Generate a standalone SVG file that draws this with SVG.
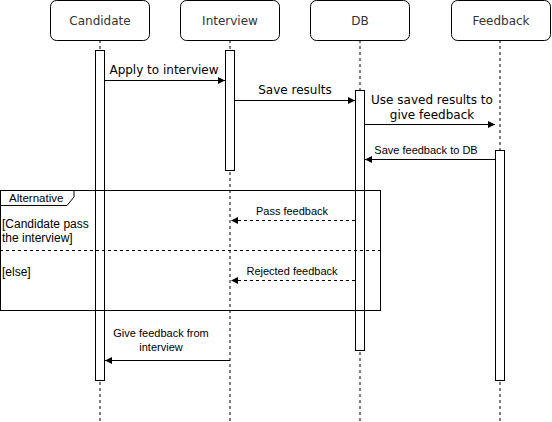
<svg xmlns="http://www.w3.org/2000/svg" width="552" height="422" viewBox="0 0 552 422">
<style>
.hdr{fill:#fff;stroke:#000;stroke-width:1}
.ht{font-family:"DejaVu Sans",sans-serif;font-size:12px;fill:#333;text-anchor:middle}
.life{stroke:#000;stroke-width:1;stroke-dasharray:3,3;fill:none}
.act{fill:#fff;stroke:#000;stroke-width:1}
.msg{stroke:#000;stroke-width:1;fill:none}
.ret{stroke:#000;stroke-width:1;fill:none;stroke-dasharray:3,3}
.mt{font-family:"DejaVu Sans",sans-serif;font-size:12px;fill:#000;text-anchor:middle}
.st{font-family:"Liberation Sans",Arial,sans-serif;font-size:11px;fill:#000;text-anchor:middle}
.ft{font-family:"Liberation Sans",Arial,sans-serif;font-size:12px;fill:#000}
</style>
<defs>
<marker id="ah" markerWidth="8" markerHeight="8" refX="7" refY="3.5" orient="auto" markerUnits="userSpaceOnUse">
<path d="M0,0 L7,3.5 L0,7 z" fill="#000"/>
</marker>
</defs>
<rect width="552" height="422" fill="#fff"/>
<g id="lifelines">
<line class="life" x1="100" y1="40" x2="100" y2="422"/>
<line class="life" x1="230" y1="40" x2="230" y2="422"/>
<line class="life" x1="360" y1="40" x2="360" y2="422"/>
<line class="life" x1="500" y1="40" x2="500" y2="422"/>
</g>
<g id="candidate">
<rect class="hdr" x="50.5" y="0.5" width="99" height="40" rx="6"/>
<text class="ht" x="100" y="24.5">Candidate</text>
<rect class="act" x="95.5" y="50.5" width="9" height="330"/>
</g>
<g id="interview">
<rect class="hdr" x="180.5" y="0.5" width="99" height="40" rx="6"/>
<text class="ht" x="230" y="24.5">Interview</text>
<rect class="act" x="225.5" y="50.5" width="9" height="120"/>
</g>
<g id="db">
<rect class="hdr" x="310.5" y="0.5" width="99" height="40" rx="6"/>
<text class="ht" x="360" y="24.5">DB</text>
<rect class="act" x="355.5" y="90.5" width="9" height="260"/>
</g>
<g id="feedback">
<rect class="hdr" x="451.5" y="0.5" width="99" height="40" rx="6"/>
<text class="ht" x="501" y="24.5">Feedback</text>
<rect class="act" x="495.5" y="150.5" width="9" height="230"/>
</g>
<g id="alt-frame">
<rect x="0.5" y="190.5" width="380" height="120" fill="none" stroke="#000"/>
<path d="M0.5,190.5 H74 V197 L67,205.5 H0.5 Z" fill="#fff" stroke="#000"/>
<text class="ft" x="9" y="202" style="font-size:11.5px">Alternative</text>
<line x1="0" y1="250.5" x2="381" y2="250.5" stroke="#000" stroke-dasharray="3,3"/>
<text class="ft" x="2" y="228">[Candidate pass</text>
<text class="ft" x="2" y="242">the interview]</text>
<text class="ft" x="2" y="276">[else]</text>
</g>
<g id="connectors">
<line class="msg" x1="105" y1="80.5" x2="225" y2="80.5" marker-end="url(#ah)"/>
<text class="mt" x="164" y="74">Apply to interview</text>
<line class="msg" x1="235" y1="100.5" x2="355" y2="100.5" marker-end="url(#ah)"/>
<text class="mt" x="295" y="94">Save results</text>
<line class="msg" x1="365" y1="124.5" x2="495" y2="124.5" marker-end="url(#ah)"/>
<text class="mt" x="432" y="104">Use saved results to</text>
<text class="mt" x="432" y="119">give feedback</text>
<line class="msg" x1="495" y1="159.5" x2="365" y2="159.5" marker-end="url(#ah)"/>
<text class="st" x="426" y="154">Save feedback to DB</text>
<line class="ret" x1="355" y1="220.5" x2="231" y2="220.5" marker-end="url(#ah)"/>
<text class="st" x="292" y="215">Pass feedback</text>
<line class="ret" x1="355" y1="280.5" x2="231" y2="280.5" marker-end="url(#ah)"/>
<text class="st" x="292" y="275">Rejected feedback</text>
<line class="msg" x1="230" y1="360.5" x2="105" y2="360.5" marker-end="url(#ah)"/>
<text class="st" x="161" y="337">Give feedback from</text>
<text class="st" x="161" y="351">interview</text>
</g>
</svg>
